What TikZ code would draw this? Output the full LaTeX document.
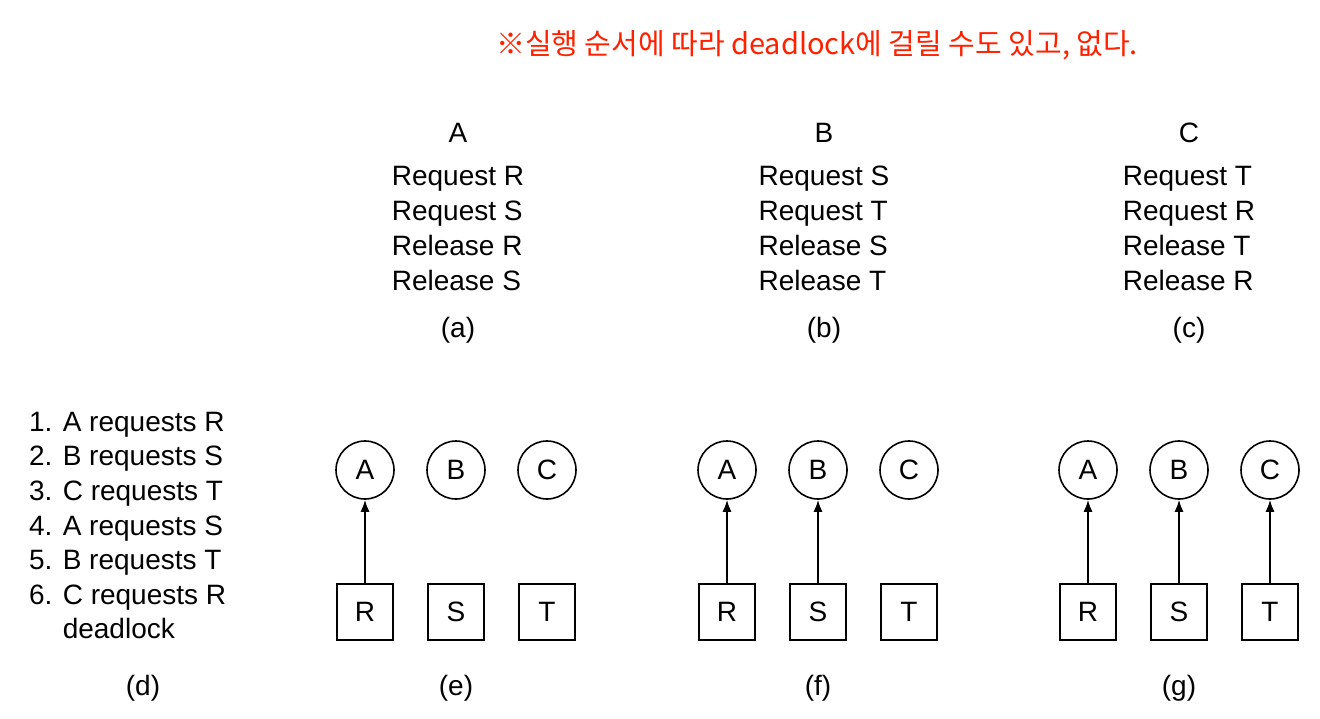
\documentclass[tikz,border=0pt]{standalone}
\usepackage{fontspec}
\setmainfont{Liberation Sans}
\newfontfamily\kofont{Noto Sans CJK KR}
\usetikzlibrary{arrows.meta}
\begin{document}
\begin{tikzpicture}[x=0.5pt,y=-0.5pt,
  every node/.style={font=\fontsize{14}{16}\selectfont},
  proc/.style={draw,thick,circle,minimum size=29pt,inner sep=0pt},
  res/.style={draw,thick,rectangle,minimum size=28pt,inner sep=0pt},
  holds/.style={-{Latex[length=6pt,width=4.5pt]},thick},
  prog/.style={align=left,font=\fontsize{14}{17.5}\selectfont}]
  \useasboundingbox (0,0) rectangle (1320,718);

  % handwritten note
  \node[text=red!75!orange,font=\kofont\fontsize{14.5}{16}\selectfont] (note) at (817,45)
    {※실행 순서에 따라 deadlock에 걸릴 수도 있고, 없다.};

  % programs
  \foreach \p/\x/\a/\b/\lab in {A/458/R/S/a,B/824/S/T/b,C/1189/T/R/c}{
    \node (t\p) at (\x,133) {\p};
    \node[prog] (c\p) at (\x,228) {Request \a\\Request \b\\Release \a\\Release \b};
    \node (l\lab) at (\x,330) {(\lab)};
  }

  % sequence
  \node[prog,anchor=north west,font=\fontsize{14}{17.3}\selectfont] (seq) at (22,405)
    {1. A requests R\\2. B requests S\\3. C requests T\\4. A requests S\\5. B requests T\\6. C requests R\\\phantom{6. }deadlock};
  \node (ld) at (143,688) {(d)};

  % resource graphs
  \foreach \g/\x/\n in {e/365/1,f/727/2,g/1088/3}{
    \foreach \p/\r [count=\i] in {A/R,B/S,C/T}{
      \node[proc] (\g\p) at (\x+91*\i-91,470) {\p};
      \node[res] (\g\r) at (\x+91*\i-91,612) {\r};
      \ifnum\i>\n\else \draw[holds] (\g\r) -- (\g\p);\fi
    }
    \node (l\g) at (\x+91,688) {(\g)};
  }
\end{tikzpicture}
\end{document}
